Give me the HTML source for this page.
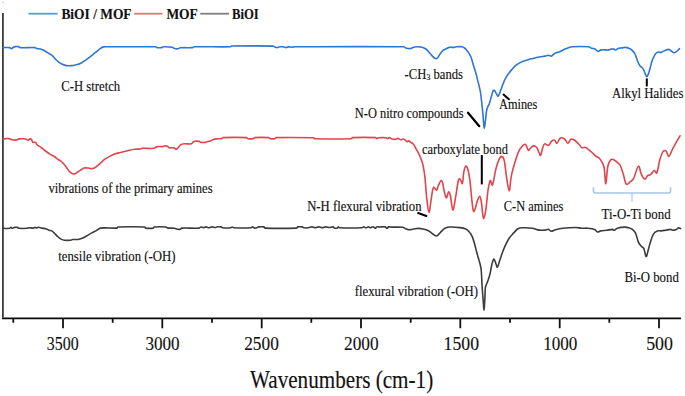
<!DOCTYPE html><html><head><meta charset="utf-8"><style>html,body{margin:0;padding:0;background:#fff;overflow:hidden;width:685px;height:396px;}svg{display:block;}text{font-family:"Liberation Serif",serif;fill:#111;stroke:#111;stroke-width:0.15px;}</style></head><body>
<svg width="685" height="396" viewBox="0 0 685 396">
<rect width="685" height="396" fill="#fff"/>
<path d="M2.9,12.9 L2.9,317.5" fill="none" stroke="#3c3c3c" stroke-width="1.8"/>
<path d="M2,318.3 L681,318.3" fill="none" stroke="#0a0a0a" stroke-width="1.8"/>
<path d="M13.3,318.3 L13.3,322.7 M112.7,318.3 L112.7,322.7 M212.0,318.3 L212.0,322.7 M311.3,318.3 L311.3,322.7 M410.7,318.3 L410.7,322.7 M510.0,318.3 L510.0,322.7 M609.3,318.3 L609.3,322.7 M63.0,318.3 L63.0,328.2 M162.3,318.3 L162.3,328.2 M261.7,318.3 L261.7,328.2 M361.0,318.3 L361.0,328.2 M460.3,318.3 L460.3,328.2 M559.7,318.3 L559.7,328.2 M659.0,318.3 L659.0,328.2" stroke="#111" stroke-width="1.8" fill="none"/>
<path d="M28.5,13.7 L57.6,13.7" stroke="#5b95dc" stroke-width="1.8"/>
<path d="M134.2,13.7 L162.3,13.7" stroke="#e57373" stroke-width="1.8"/>
<path d="M200.2,13.7 L229.1,13.7" stroke="#808080" stroke-width="1.8"/>
<path d="M3,47.6 C5.20,47.60 7.48,47.32 9.6,47.6 C10.28,47.69 10.81,48.72 11.4,48.7 C11.98,48.68 12.49,47.83 13.1,47.5 C13.79,47.13 14.53,46.73 15.3,46.6 C16.30,46.43 17.42,46.40 18.4,46.6 C19.02,46.73 19.45,47.56 20.1,47.6 C24.99,47.89 30.10,47.34 35,47.6 C35.66,47.64 36.16,48.34 36.8,48.5 C37.92,48.78 39.17,48.61 40.3,48.9 C41.51,49.21 42.69,49.72 43.8,50.3 C45.26,51.06 46.60,52.04 48,52.9 C48.83,53.41 49.69,53.87 50.5,54.4 C51.22,54.87 51.98,55.31 52.6,55.9 C53.58,56.84 54.33,58.03 55.3,59 C56.40,60.10 57.56,61.16 58.8,62.1 C59.89,62.93 61.05,63.74 62.3,64.3 C63.65,64.91 65.13,65.40 66.6,65.6 C68.33,65.83 70.15,65.76 71.9,65.6 C73.38,65.46 74.84,65.03 76.3,64.7 C77.47,64.43 78.71,64.28 79.8,63.8 C81.34,63.12 82.79,62.15 84.2,61.2 C85.99,59.99 87.69,58.63 89.4,57.3 C91.46,55.70 93.46,54.03 95.5,52.4 C96.96,51.23 98.37,49.97 99.9,48.9 C101.00,48.13 102.12,47.17 103.4,46.9 C105.49,46.47 107.80,46.80 110,46.8 C125.27,46.77 140.61,46.54 155.8,46.8 C156.31,46.81 156.61,47.54 157.1,47.6 C158.64,47.80 160.36,47.80 161.9,47.6 C162.39,47.54 162.70,46.82 163.2,46.8 C166.20,46.69 169.41,46.83 172.4,47.2 C172.91,47.26 173.21,47.93 173.7,48.1 C174.81,48.49 176.05,48.95 177.2,48.9 C178.25,48.85 179.22,47.89 180.3,47.8 C184.35,47.46 188.55,47.89 192.6,47.6 C193.22,47.56 193.68,46.81 194.3,46.8 C206.38,46.55 218.66,47.06 230.7,46.8 C231.10,46.79 231.20,46.01 231.6,46 C245.37,45.77 259.41,45.81 273.2,46.1 C273.71,46.11 274.03,46.72 274.5,46.9 C275.36,47.22 276.31,47.62 277.2,47.6 C278.07,47.58 278.91,46.92 279.8,46.8 C280.94,46.65 282.16,46.65 283.3,46.8 C284.19,46.92 285.03,47.58 285.9,47.6 C286.76,47.62 287.62,46.95 288.5,46.9 C289.95,46.82 291.46,47.23 292.9,47.2 C293.22,47.19 293.47,46.80 293.8,46.8 C330.41,46.67 367.18,46.38 403.7,46.8 C404.55,46.81 405.13,47.77 405.9,48.1 C406.46,48.34 407.09,48.45 407.7,48.5 C408.69,48.58 409.74,48.68 410.7,48.5 C411.47,48.35 412.13,47.70 412.9,47.5 C414.33,47.13 415.83,46.93 417.3,46.8 C418.16,46.73 419.04,46.79 419.9,46.9 C420.91,47.03 421.96,47.14 422.9,47.5 C424.19,48.00 425.52,48.64 426.6,49.5 C427.72,50.40 428.53,51.70 429.5,52.8 C430.47,53.90 431.40,55.04 432.4,56.1 C433.10,56.84 433.79,57.61 434.6,58.2 C435.03,58.51 435.64,58.90 436.1,58.8 C436.74,58.66 437.44,58.07 437.9,57.5 C438.87,56.30 439.46,54.75 440.4,53.5 C441.29,52.32 442.26,51.11 443.4,50.2 C444.22,49.54 445.33,49.27 446.3,48.8 C447.27,48.33 448.17,47.58 449.2,47.4 C450.83,47.11 452.62,47.54 454.3,47.4 C455.05,47.34 455.75,46.86 456.5,46.8 C458.31,46.66 460.23,46.53 462,46.8 C462.89,46.93 463.76,47.47 464.5,48 C465.33,48.60 466.02,49.42 466.7,50.2 C467.49,51.12 468.24,52.09 468.9,53.1 C469.34,53.79 469.64,54.56 470,55.3 C470.47,56.26 471.05,57.19 471.4,58.2 C472.25,60.69 472.85,63.27 473.6,65.8 C474.35,68.31 475.20,70.78 475.9,73.3 C476.74,76.31 477.44,79.37 478.2,82.4 C478.67,84.27 479.18,86.12 479.6,88 C479.98,89.66 480.34,91.32 480.6,93 C480.98,95.49 481.21,98.00 481.5,100.5 C481.81,103.20 482.13,105.90 482.4,108.6 C482.70,111.63 482.94,114.67 483.2,117.7 C483.38,119.80 483.48,121.91 483.7,124 C483.85,125.44 484.08,128.30 484.3,128.3 C484.52,128.30 484.80,125.44 485,124 C485.30,121.90 485.55,119.80 485.8,117.7 C486.08,115.30 486.19,112.87 486.6,110.5 C486.79,109.37 487.17,108.26 487.6,107.2 C488.11,105.93 488.94,104.78 489.4,103.5 C490.07,101.65 490.45,99.69 491,97.8 C491.68,95.46 492.14,92.88 493.1,90.8 C493.28,90.41 494.12,90.14 494.4,90.4 C495.25,91.18 495.82,92.72 496.5,93.9 C496.99,94.75 497.42,96.37 497.9,96.5 C498.26,96.60 498.68,95.26 499,94.6 C499.48,93.59 499.90,92.55 500.3,91.5 C501.04,89.55 501.64,87.54 502.4,85.6 C503.24,83.44 504.07,81.27 505.1,79.2 C505.97,77.47 506.98,75.79 508.1,74.2 C509.35,72.42 510.75,70.73 512.2,69.1 C513.45,67.69 514.72,66.24 516.2,65.1 C517.75,63.91 519.54,62.97 521.3,62.1 C522.57,61.47 523.96,61.09 525.3,60.6 C526.63,60.12 527.94,59.58 529.3,59.2 C530.48,58.88 531.71,58.76 532.9,58.5 C535.04,58.03 537.15,57.43 539.3,57 C541.19,56.63 543.11,56.45 545,56.1 C546.18,55.88 547.34,55.30 548.5,55.3 C549.47,55.30 550.53,56.32 551.4,56.1 C552.47,55.82 553.22,54.38 554.3,53.8 C556.16,52.81 558.25,52.25 560.2,51.4 C562.15,50.55 564.02,49.48 566,48.7 C567.92,47.95 569.86,46.97 571.9,46.8 C577.46,46.34 583.27,46.38 588.8,46.8 C589.87,46.88 590.68,47.97 591.7,48.3 C592.61,48.60 593.75,48.29 594.6,48.7 C595.88,49.32 596.87,51.17 598.1,51.4 C599.03,51.57 600.02,50.05 601.1,49.9 C603.52,49.55 606.13,50.10 608.6,49.9 C609.43,49.83 610.18,49.22 611,49.1 C611.94,48.96 612.98,48.92 613.9,49.1 C614.54,49.22 615.12,50.08 615.7,50 C616.49,49.88 617.15,48.78 618,48.5 C619.28,48.08 620.74,48.11 622.1,47.9 C623.07,47.75 624.04,47.36 625,47.4 C626.27,47.46 627.61,47.74 628.8,48.2 C629.91,48.64 631.00,49.31 631.9,50.1 C632.90,50.98 633.82,52.05 634.5,53.2 C635.32,54.59 635.81,56.18 636.4,57.7 C637.04,59.35 637.47,61.09 638.2,62.7 C638.71,63.83 639.34,64.94 640.1,65.9 C640.61,66.54 641.46,66.88 642,67.5 C642.73,68.35 643.39,69.30 643.9,70.3 C644.52,71.50 644.85,72.86 645.4,74.1 C645.78,74.96 646.23,76.60 646.7,76.6 C647.20,76.60 647.94,75.01 648.3,74.1 C649.10,72.08 649.60,69.91 650.2,67.8 C650.86,65.48 651.30,63.07 652.1,60.8 C652.80,58.84 653.63,56.86 654.7,55.1 C655.33,54.06 656.24,53.08 657.2,52.4 C657.71,52.04 658.47,51.97 659.1,52 C659.74,52.03 660.40,52.69 661,52.6 C661.67,52.49 662.23,51.73 662.9,51.4 C663.63,51.03 664.43,50.79 665.2,50.5 C666.20,50.12 667.20,49.46 668.2,49.4 C668.90,49.36 669.66,49.82 670.3,50.2 C671.53,50.92 672.57,52.39 673.8,52.7 C674.57,52.89 675.58,52.21 676.3,51.7 C677.48,50.87 678.43,49.70 679.5,48.7" fill="none" stroke="#2d77d3" stroke-width="1.6" stroke-linejoin="round" stroke-linecap="round"/>
<path d="M3.1,139.2 C3.83,139.00 4.55,138.68 5.3,138.6 C6.45,138.48 7.67,138.41 8.8,138.6 C10.00,138.81 11.10,139.54 12.3,139.8 C13.44,140.04 14.66,140.25 15.8,140.1 C17.00,139.95 18.10,139.10 19.3,138.9 C20.70,138.67 22.17,138.74 23.6,138.8 C24.51,138.84 25.46,138.91 26.3,139.2 C26.92,139.41 27.43,140.34 28,140.3 C28.73,140.24 29.45,139.07 30.2,138.9 C30.61,138.81 31.23,139.14 31.5,139.5 C32.09,140.27 32.09,141.78 32.8,142.3 C33.42,142.75 34.81,141.99 35.5,142.4 C36.27,142.86 36.46,144.24 37.2,144.9 C38.36,145.94 39.92,146.56 41.2,147.5 C42.69,148.59 44.03,149.88 45.5,151 C46.93,152.08 48.38,153.15 49.9,154.1 C51.31,154.98 52.91,155.58 54.3,156.5 C55.48,157.28 56.43,158.40 57.6,159.2 C58.57,159.86 59.78,160.19 60.7,160.9 C61.84,161.79 62.82,162.92 63.8,164 C64.55,164.82 65.24,165.71 65.9,166.6 C66.97,168.04 67.82,169.67 69,171 C69.89,172.00 70.93,173.06 72.1,173.6 C72.97,174.00 74.19,174.07 75.1,173.8 C76.09,173.50 76.88,172.51 77.8,171.9 C78.95,171.14 80.14,170.44 81.3,169.7 C82.17,169.14 82.93,168.23 83.9,168 C85.27,167.67 86.85,167.88 88.3,168 C89.18,168.08 90.03,168.60 90.9,168.6 C92.06,168.60 93.36,168.49 94.4,168 C95.69,167.39 96.76,166.23 97.9,165.3 C99.09,164.33 100.24,163.31 101.4,162.3 C102.57,161.28 103.64,160.11 104.9,159.2 C106.28,158.21 107.79,157.38 109.3,156.6 C111.26,155.58 113.24,154.56 115.3,153.8 C116.97,153.19 118.77,152.93 120.5,152.5 C122.83,151.93 125.16,151.35 127.5,150.8 C129.83,150.25 132.14,149.52 134.5,149.2 C136.54,148.92 138.68,149.24 140.7,149 C141.18,148.94 141.51,148.33 142,148.3 C145.88,148.09 149.96,148.73 153.8,148.3 C155.06,148.16 156.06,146.84 157.3,146.6 C158.99,146.27 160.86,146.75 162.6,146.6 C163.19,146.55 163.71,146.08 164.3,146 C165.11,145.88 166.05,145.74 166.8,146 C167.75,146.34 168.42,147.55 169.4,147.8 C170.76,148.15 172.41,147.50 173.8,147.8 C174.75,148.00 175.65,149.63 176.4,149.3 C177.99,148.60 179.12,145.87 180.8,144.7 C181.75,144.04 183.11,143.90 184.3,143.8 C186.61,143.60 189.17,144.33 191.3,143.8 C192.37,143.53 192.85,141.72 193.9,141.4 C195.48,140.92 197.50,141.16 199.2,141.4 C199.83,141.49 200.27,142.30 200.9,142.4 C202.30,142.63 203.87,142.60 205.3,142.4 C206.20,142.27 207.01,141.64 207.9,141.4 C208.74,141.17 209.69,141.29 210.5,141 C211.72,140.56 212.77,139.58 214,139.2 C215.13,138.85 216.40,138.89 217.6,138.8 C219.03,138.69 220.55,138.89 221.9,138.6 C222.39,138.49 222.59,137.62 223.1,137.6 C230.72,137.29 238.67,137.26 246.3,137.6 C246.97,137.63 247.35,138.60 248,138.7 C249.69,138.97 251.63,138.98 253.3,138.7 C253.83,138.61 254.05,137.64 254.6,137.6 C259.15,137.27 264.02,137.28 268.6,137.6 C269.29,137.65 269.73,138.58 270.4,138.7 C271.76,138.95 273.36,138.96 274.7,138.7 C275.26,138.59 275.51,137.61 276.1,137.6 C288.51,137.31 301.29,137.45 313.7,137.8 C314.12,137.81 314.18,138.69 314.6,138.7 C326.78,138.99 339.38,139.05 351.5,138.7 C351.95,138.69 351.86,137.62 352.3,137.6 C359.86,137.25 367.88,137.26 375.5,137.6 C376.08,137.63 376.42,138.66 376.9,138.7 C377.32,138.73 377.69,137.85 378.2,137.8 C380.76,137.55 383.54,137.55 386.1,137.8 C386.61,137.85 386.95,138.73 387.4,138.7 C388.05,138.66 388.73,137.56 389.4,137.6 C390.29,137.66 391.14,138.74 392.1,139 C393.21,139.30 394.47,139.42 395.6,139.3 C396.37,139.22 397.07,138.33 397.8,138.4 C398.84,138.50 399.84,139.67 400.9,139.8 C401.77,139.91 402.79,138.86 403.6,139.1 C404.85,139.46 405.91,141.15 407.1,141.6 C407.51,141.75 407.97,140.83 408.4,140.9 C409.14,141.03 409.88,141.74 410.6,142.2 C411.51,142.78 412.59,143.22 413.3,144 C414.09,144.86 414.51,146.06 415.1,147.1 C415.68,148.13 416.22,149.17 416.8,150.2 C417.39,151.24 418.05,152.24 418.6,153.3 C419.19,154.44 419.74,155.60 420.2,156.8 C421.14,159.24 422.16,161.67 422.8,164.2 C423.56,167.21 423.93,170.32 424.4,173.4 C424.73,175.59 424.99,177.79 425.2,180 C425.76,185.96 426.00,191.96 426.7,197.9 C427.27,202.72 428.21,212.04 429,212.3 C429.71,212.54 430.43,203.69 431.2,199.4 C431.93,195.36 432.19,189.56 433.5,187.3 C433.95,186.52 435.74,190.44 436.5,190.3 C437.24,190.17 437.43,187.74 438,186.5 C438.93,184.47 439.91,181.40 441,180.5 C441.44,180.13 442.34,181.85 442.6,182.7 C443.34,185.12 443.38,187.81 444,190.3 C444.64,192.87 445.55,197.62 446.4,197.9 C447.09,198.12 447.77,192.48 448.6,191.8 C449.04,191.44 449.94,193.71 450.2,194.8 C451.37,199.77 451.92,209.43 452.9,210 C453.69,210.46 454.75,201.96 455.5,197.9 C456.62,191.86 457.12,185.48 458.5,179.7 C458.62,179.18 459.69,178.69 460,179 C460.95,179.95 461.92,184.21 462.3,183.5 C463.18,181.87 463.05,175.77 463.8,172 C464.21,169.94 464.93,166.84 465.8,166 C466.20,165.61 467.33,167.38 467.6,168.3 C468.67,171.95 469.29,175.87 469.8,179.7 C470.79,187.23 471.20,194.85 472.1,202.4 C472.46,205.45 472.84,210.01 473.6,211.5 C473.88,212.05 474.82,209.56 475.2,208.5 C476.09,206.03 476.48,203.36 477.4,200.9 C477.98,199.33 479.05,196.40 479.7,196.4 C480.31,196.40 480.93,199.35 481.2,200.9 C482.20,206.65 482.47,216.27 483.5,218.3 C484.00,219.30 485.35,212.83 485.8,210 C486.85,203.49 487.01,196.82 488,190.3 C488.51,186.99 489.32,181.65 490.3,180.5 C490.79,179.92 491.96,186.02 492.4,185.1 C493.86,182.02 494.57,173.97 496,168.5 C496.81,165.40 497.76,162.25 499.1,159.4 C499.66,158.22 500.92,156.25 501.7,156.4 C502.62,156.58 503.83,158.90 504.2,160.4 C505.33,164.97 505.42,169.88 506.2,174.6 C507.09,180.02 508.31,190.44 509.2,190.8 C509.98,191.11 510.29,181.29 511.2,176.6 C511.99,172.52 513.13,168.49 514.3,164.5 C515.50,160.43 516.71,156.32 518.3,152.4 C519.04,150.58 520.03,148.75 521.3,147.3 C522.39,146.05 524.38,143.87 525.4,144.3 C526.75,144.87 527.23,149.36 528.4,150.3 C528.89,150.70 529.69,148.91 530.4,148.3 C531.39,147.45 532.40,146.08 533.5,145.9 C534.43,145.75 535.79,146.53 536.5,147.3 C537.46,148.33 537.83,149.97 538.5,151.3 C539.19,152.67 540.07,155.78 540.6,155.4 C541.44,154.78 541.79,150.62 542.6,148.3 C543.13,146.78 543.53,144.43 544.6,143.9 C545.53,143.43 547.53,145.71 548.6,145.3 C549.90,144.81 550.44,142.25 551.7,141.2 C552.47,140.55 553.93,139.88 554.7,140.2 C555.60,140.58 556.03,143.51 556.7,143.3 C557.73,142.98 558.57,139.93 559.8,138.6 C560.27,138.09 561.14,137.72 561.8,137.8 C562.81,137.92 564.00,138.48 564.8,139.2 C566.04,140.32 566.88,143.30 567.9,143.3 C568.91,143.30 569.65,139.93 570.9,139.2 C571.65,138.76 573.06,139.27 573.9,139.8 C575.76,140.97 577.40,142.70 579,144.3 C580.10,145.40 580.79,147.29 582,147.9 C582.79,148.29 584.09,147.04 585,147.3 C586.42,147.71 587.74,148.94 589,149.9 C590.41,150.97 591.69,152.20 593,153.4 C594.06,154.37 594.96,155.54 596.1,156.4 C597.00,157.08 598.32,157.22 599.1,158 C600.32,159.22 601.28,160.84 602.1,162.4 C602.95,164.01 603.79,165.71 604.1,167.5 C605.02,172.81 605.20,183.86 605.8,183.7 C606.44,183.53 606.74,172.13 607.8,166.5 C608.20,164.37 608.99,162.00 610.2,160.4 C610.79,159.63 612.29,159.14 613.2,159.4 C614.66,159.81 616.02,161.30 617.3,162.4 C618.39,163.33 619.67,164.24 620.3,165.5 C621.70,168.31 622.41,171.55 623.4,174.6 C624.44,177.82 624.81,182.69 626.4,184.3 C627.15,185.06 629.17,182.69 630.4,181.7 C631.53,180.79 632.84,179.88 633.5,178.6 C635.54,174.68 636.90,166.90 638.5,166.1 C639.57,165.57 640.18,171.94 641.5,174.6 C642.35,176.31 643.85,179.01 645,179.2 C645.88,179.34 646.51,176.50 647.6,175.6 C648.38,174.96 649.79,175.22 650.6,174.6 C652.02,173.52 653.05,170.83 654.3,170.5 C655.08,170.29 656.32,173.71 656.7,173 C658.12,170.34 658.50,164.54 659.7,160.4 C660.54,157.51 661.30,154.28 662.8,151.9 C663.34,151.05 665.13,150.20 665.8,150.7 C667.13,151.70 667.82,156.73 668.8,156.4 C670.18,155.93 671.45,150.96 672.9,148.3 C675.19,144.09 677.63,139.97 680,135.8" fill="none" stroke="#e1444a" stroke-width="1.6" stroke-linejoin="round" stroke-linecap="round"/>
<path d="M3.1,227.4 C3.37,227.70 3.52,228.25 3.9,228.3 C5.69,228.55 7.77,228.53 9.6,228.3 C10.11,228.23 10.46,227.40 10.9,227.4 C11.36,227.40 11.81,228.30 12.3,228.3 C13.01,228.30 13.73,227.53 14.5,227.4 C15.47,227.23 16.56,227.20 17.5,227.4 C17.99,227.50 18.29,228.25 18.8,228.3 C21.52,228.55 24.43,228.46 27.2,228.3 C27.79,228.26 28.31,227.72 28.9,227.7 C30.34,227.65 31.86,228.17 33.3,228.1 C33.90,228.07 34.42,227.43 35,227.4 C35.59,227.37 36.21,227.93 36.8,227.9 C37.38,227.87 37.92,227.18 38.5,227.2 C39.65,227.24 40.82,227.85 42,228.1 C43.46,228.41 44.99,228.46 46.4,228.9 C47.33,229.19 48.09,229.96 49,230.3 C49.85,230.62 50.91,230.48 51.7,230.9 C52.67,231.42 53.48,232.32 54.3,233.1 C55.44,234.19 56.42,235.46 57.6,236.5 C58.69,237.46 59.83,238.43 61.1,239.1 C62.17,239.66 63.40,240.06 64.6,240.2 C66.63,240.43 68.77,240.38 70.8,240.2 C71.40,240.15 71.90,239.56 72.5,239.5 C74.37,239.32 76.34,239.75 78.2,239.5 C79.57,239.32 80.91,238.74 82.2,238.2 C83.68,237.58 85.09,236.78 86.5,236 C88.29,235.01 90.01,233.90 91.8,232.9 C93.25,232.10 94.75,231.40 96.2,230.6 C97.65,229.80 98.89,228.29 100.5,228.1 C105.83,227.46 111.66,228.44 117,228.1 C117.46,228.07 117.44,227.02 117.9,227 C126.64,226.65 135.86,226.65 144.6,227 C145.06,227.02 145.05,228.04 145.5,228.1 C147.99,228.41 150.93,228.41 153.4,228.1 C153.83,228.05 153.77,227.04 154.2,227 C158.00,226.67 162.22,226.74 166.1,227 C166.62,227.04 166.89,227.82 167.4,227.9 C169.72,228.26 172.23,227.99 174.6,228.3 C175.53,228.42 176.38,229.05 177.3,229.2 C178.28,229.35 179.39,229.43 180.3,229.2 C180.82,229.07 181.04,228.13 181.6,228.1 C187.34,227.77 193.43,228.43 199.2,228.1 C199.86,228.06 200.28,227.07 200.9,227 C201.71,226.91 202.64,227.62 203.5,227.6 C204.40,227.58 205.31,226.87 206.2,226.9 C207.08,226.93 207.92,227.80 208.8,227.8 C209.95,227.80 211.13,226.96 212.3,226.9 C213.16,226.86 214.04,227.52 214.9,227.5 C215.80,227.48 216.68,226.89 217.6,226.8 C218.75,226.69 219.99,226.68 221.1,226.9 C221.66,227.01 222.03,227.75 222.6,227.8 C225.17,228.05 227.91,228.01 230.5,227.8 C231.15,227.75 231.70,227.00 232.3,227 C232.87,227.00 233.38,227.77 234,227.8 C239.65,228.04 245.50,228.10 251.1,227.8 C251.64,227.77 251.94,226.76 252.4,226.8 C253.11,226.86 253.82,227.92 254.6,228.1 C255.28,228.25 256.10,228.01 256.8,227.8 C257.40,227.61 257.88,226.98 258.5,226.9 C260.21,226.68 262.15,226.60 263.8,226.9 C264.35,227.00 264.52,228.08 265.1,228.1 C275.42,228.48 286.18,228.48 296.5,228.1 C297.08,228.08 297.26,227.01 297.8,226.9 C299.16,226.61 300.79,226.69 302.2,226.9 C302.82,226.99 303.28,227.71 303.9,227.8 C305.31,228.01 306.85,227.96 308.3,227.8 C309.49,227.66 310.63,226.90 311.8,226.9 C312.97,226.90 314.13,227.80 315.3,227.8 C316.47,227.80 317.63,226.90 318.8,226.9 C319.97,226.90 321.13,227.80 322.3,227.8 C323.47,227.80 324.62,226.95 325.8,226.9 C326.96,226.85 328.13,227.50 329.3,227.5 C330.57,227.50 331.94,226.76 333.1,226.9 C333.64,226.96 333.87,227.95 334.4,228.1 C335.30,228.35 336.53,228.37 337.4,228.1 C337.83,227.97 337.94,226.95 338.3,226.9 C338.68,226.85 339.08,227.78 339.6,227.8 C346.98,228.08 354.62,228.11 362,227.8 C362.65,227.77 363.12,226.80 363.7,226.8 C364.42,226.80 365.15,227.78 365.9,227.8 C366.75,227.82 367.65,226.90 368.5,226.9 C369.12,226.90 369.68,227.81 370.3,227.8 C371.15,227.78 372.07,226.72 372.9,226.8 C373.80,226.89 374.75,228.28 375.5,228.3 C375.92,228.31 375.93,227.04 376.4,226.9 C377.43,226.60 378.80,227.00 380,227 C381.73,227.00 383.58,226.60 385.2,226.9 C385.88,227.03 386.33,228.30 386.9,228.3 C387.49,228.30 388.01,227.07 388.7,226.9 C389.61,226.67 390.70,227.07 391.7,227.1 C395.40,227.20 399.17,226.95 402.8,227.3 C403.63,227.38 404.32,228.06 405.1,228.4 C406.06,228.82 407.00,229.39 408,229.6 C408.93,229.79 409.94,229.70 410.9,229.6 C411.91,229.50 412.89,229.16 413.9,229 C415.43,228.76 416.97,228.40 418.5,228.4 C420.07,228.40 421.65,228.70 423.2,229 C424.39,229.23 425.59,229.54 426.7,230 C427.92,230.51 429.09,231.17 430.2,231.9 C431.43,232.71 432.48,233.78 433.7,234.6 C434.51,235.15 435.46,236.00 436.3,236 C437.02,236.00 437.79,235.17 438.4,234.6 C439.65,233.44 440.64,231.97 441.9,230.8 C442.98,229.80 444.09,228.71 445.4,228.1 C446.83,227.44 448.51,227.05 450.1,227 C453.37,226.89 456.73,227.21 460,227.6 C461.79,227.81 463.70,228.06 465.3,228.8 C466.73,229.46 468.04,230.61 469.1,231.8 C470.30,233.15 471.33,234.75 472.1,236.4 C473.10,238.55 473.74,240.90 474.4,243.2 C475.27,246.20 475.89,249.28 476.7,252.3 C477.39,254.85 478.18,257.36 478.9,259.9 C479.38,261.60 479.91,263.28 480.3,265 C480.68,266.65 481.02,268.32 481.2,270 C481.49,272.65 481.55,275.33 481.7,278 C481.85,280.67 481.94,283.33 482.1,286 C482.24,288.33 482.43,290.67 482.6,293 C482.77,295.33 482.92,297.67 483.1,300 C483.25,302.00 483.42,304.00 483.6,306 C483.72,307.40 483.87,310.20 484,310.2 C484.13,310.20 484.29,307.40 484.4,306 C484.56,304.00 484.69,302.00 484.8,300 C484.93,297.67 484.99,295.33 485.1,293 C485.19,291.17 485.12,289.30 485.4,287.5 C485.56,286.47 486.04,285.49 486.4,284.5 C486.84,283.32 487.36,282.18 487.8,281 C488.23,279.84 488.65,278.68 489,277.5 C489.49,275.85 489.93,274.18 490.3,272.5 C490.96,269.51 491.31,266.44 492.1,263.5 C492.51,261.98 493.28,259.07 493.9,259.1 C494.55,259.13 495.24,262.17 495.9,263.7 C496.40,264.87 496.95,267.56 497.4,267.2 C498.22,266.53 498.94,262.80 499.7,260.6 C500.48,258.34 501.17,256.04 502,253.8 C502.94,251.24 503.88,248.68 505,246.2 C506.15,243.65 507.29,241.04 508.8,238.7 C510.05,236.77 511.73,235.10 513.3,233.4 C514.77,231.80 516.12,229.89 517.9,228.8 C519.16,228.03 520.88,227.86 522.4,227.8 C525.61,227.66 528.91,227.77 532.1,228.2 C534.58,228.54 536.93,229.74 539.4,230.1 C541.33,230.38 543.36,230.28 545.3,230.1 C546.29,230.01 547.30,229.13 548.2,229.3 C549.24,229.50 550.06,231.14 551.1,231.2 C552.49,231.28 554.00,230.08 555.5,229.7 C557.90,229.08 560.34,228.47 562.8,228.2 C567.14,227.73 571.54,227.50 575.9,227.5 C577.87,227.50 579.83,228.08 581.8,228.2 C583.73,228.32 585.68,228.02 587.6,228.2 C589.92,228.42 592.39,228.60 594.5,229.4 C595.72,229.86 596.46,231.72 597.6,232 C598.50,232.22 599.56,231.11 600.6,230.9 C602.60,230.51 604.67,230.45 606.7,230.2 C608.70,229.95 610.75,229.40 612.7,229.4 C613.25,229.40 613.71,230.32 614.2,230.2 C615.24,229.95 616.16,228.63 617.3,228.3 C619.69,227.60 622.30,227.18 624.8,227.1 C626.34,227.05 627.93,227.45 629.4,227.9 C630.46,228.22 631.57,228.68 632.4,229.4 C633.61,230.45 634.81,231.74 635.5,233.2 C636.84,236.04 637.20,239.42 638.5,242.3 C639.20,243.85 640.37,245.22 641.5,246.5 C642.14,247.22 643.41,247.45 643.8,248.3 C644.95,250.85 645.28,256.43 646.1,256.7 C646.78,256.93 647.61,252.11 648.3,249.8 C649.11,247.05 649.69,244.22 650.6,241.5 C651.46,238.92 652.18,236.12 653.6,233.9 C654.44,232.59 655.98,231.46 657.4,230.9 C658.51,230.46 659.94,231.00 661.2,230.9 C662.74,230.77 664.27,230.45 665.8,230.2 C667.30,229.95 668.82,229.40 670.3,229.4 C671.09,229.40 671.82,230.20 672.6,230.2 C673.85,230.20 675.21,229.85 676.4,229.4 C677.21,229.09 677.82,228.05 678.6,227.9 C679.22,227.78 679.93,228.37 680.6,228.6" fill="none" stroke="#3c3c3c" stroke-width="1.6" stroke-linejoin="round" stroke-linecap="round"/>
<path d="M468,112.7 L479.3,126.2" stroke="#000" stroke-width="2.2" stroke-linecap="round"/>
<path d="M503.5,94.6 L508.9,99.3" stroke="#000" stroke-width="2" stroke-linecap="round"/>
<path d="M646.8,78.4 L646.8,86.4" stroke="#000" stroke-width="2"/>
<path d="M481.8,155 L481.8,184.4" stroke="#000" stroke-width="2"/>
<path d="M418.1,213 L426.4,216" stroke="#000" stroke-width="2" stroke-linecap="round"/>
<path d="M593.5,187.3 L593.5,191.6 Q593.5,193 595,193 L669,193 Q670.5,193 670.5,191.6 L670.5,187.3" stroke="#a6c3e8" stroke-width="1.6" fill="none"/>
<path d="M632,193.5 L632,201.4" stroke="#b9cfec" stroke-width="1.5" fill="none"/>
<circle cx="3" cy="2.3" r="0.8" fill="#bbb"/>
<text x="61.40" y="19.00" font-size="15" font-weight="bold" textLength="70.20" lengthAdjust="spacingAndGlyphs">BiOI / MOF</text>
<text x="166.40" y="19.00" font-size="15" font-weight="bold" textLength="31.40" lengthAdjust="spacingAndGlyphs">MOF</text>
<text x="232.00" y="19.00" font-size="15" font-weight="bold" textLength="26.80" lengthAdjust="spacingAndGlyphs">BiOI</text>
<text x="61.20" y="91.40" font-size="14.8" textLength="59.00" lengthAdjust="spacingAndGlyphs">C-H stretch</text>
<text x="404.60" y="78.60" font-size="14.8" textLength="58.40" lengthAdjust="spacingAndGlyphs">-CH<tspan font-size="9.2" dy="1.5">3</tspan><tspan dy="-1.5"> bands</tspan></text>
<text x="354.80" y="117.50" font-size="14.8" textLength="108.80" lengthAdjust="spacingAndGlyphs">N-O nitro compounds</text>
<text x="499.00" y="109.10" font-size="14.8" textLength="38.40" lengthAdjust="spacingAndGlyphs">Amines</text>
<text x="612.00" y="98.30" font-size="14.8" textLength="71.40" lengthAdjust="spacingAndGlyphs">Alkyl Halides</text>
<text x="422.00" y="153.50" font-size="14.8" textLength="86.00" lengthAdjust="spacingAndGlyphs">carboxylate bond</text>
<text x="48.40" y="192.50" font-size="14.8" textLength="164.20" lengthAdjust="spacingAndGlyphs">vibrations of the primary amines</text>
<text x="307.20" y="210.90" font-size="14.8" textLength="114.40" lengthAdjust="spacingAndGlyphs">N-H flexural vibration</text>
<text x="503.80" y="210.80" font-size="14.8" textLength="59.60" lengthAdjust="spacingAndGlyphs">C-N amines</text>
<text x="601.60" y="219.00" font-size="14.8" textLength="69.00" lengthAdjust="spacingAndGlyphs">Ti-O-Ti bond</text>
<text x="58.20" y="261.00" font-size="14.8" textLength="117.40" lengthAdjust="spacingAndGlyphs">tensile vibration (-OH)</text>
<text x="354.80" y="295.80" font-size="14.8" textLength="123.20" lengthAdjust="spacingAndGlyphs">flexural vibration (-OH)</text>
<text x="624.40" y="281.70" font-size="14.8" textLength="54.40" lengthAdjust="spacingAndGlyphs">Bi-O bond</text>
<text x="250.00" y="388.10" font-size="25" textLength="183.20" lengthAdjust="spacingAndGlyphs">Wavenumbers (cm-1)</text>
<text x="46.80" y="349.60" font-size="19.5" textLength="31.80" lengthAdjust="spacingAndGlyphs">3500</text>
<text x="145.40" y="349.60" font-size="19.5" textLength="34.20" lengthAdjust="spacingAndGlyphs">3000</text>
<text x="244.20" y="349.60" font-size="19.5" textLength="34.60" lengthAdjust="spacingAndGlyphs">2500</text>
<text x="344.00" y="349.60" font-size="19.5" textLength="34.60" lengthAdjust="spacingAndGlyphs">2000</text>
<text x="443.60" y="349.60" font-size="19.5" textLength="35.40" lengthAdjust="spacingAndGlyphs">1500</text>
<text x="543.20" y="349.60" font-size="19.5" textLength="34.20" lengthAdjust="spacingAndGlyphs">1000</text>
<text x="646.20" y="349.60" font-size="19.5" textLength="26.80" lengthAdjust="spacingAndGlyphs">500</text>
</svg></body></html>
